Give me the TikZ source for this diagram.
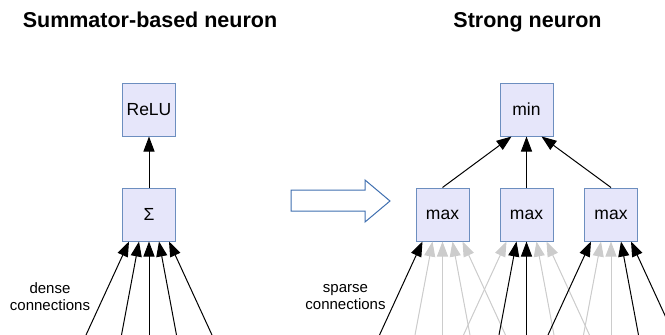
\documentclass[tikz,border=0pt]{standalone}
\usepackage{fontspec}
\setmainfont{Liberation Sans}
\usetikzlibrary{arrows.meta}
\definecolor{boxfill}{HTML}{E6E6FA}
\definecolor{boxdraw}{HTML}{6C8EBF}
\definecolor{arrowblue}{HTML}{3F6FB0}
\definecolor{faint}{HTML}{CCCCCC}
\begin{document}
\begin{tikzpicture}[x=1pt,y=-1pt,
  opbox/.style={draw=boxdraw, fill=boxfill, line width=1pt, minimum width=53pt,
    minimum height=53pt, inner sep=0pt, font=\fontsize{17.5}{20}\selectfont},
  conn/.style={line width=1pt, -{Triangle[length=15pt,width=11pt]}},
  weakconn/.style={conn, draw=faint, fill=faint},
  title/.style={font=\fontsize{21.5}{25}\selectfont\bfseries, anchor=base},
  note/.style={font=\fontsize{15}{17}\selectfont, align=center}]
\useasboundingbox (0,0) rectangle (665,335);
\clip (0,0) rectangle (665,335);

% titles
\node[title] (t1) at (150,27.3) {Summator-based neuron};
\node[title] (t2) at (527.5,27.3) {Strong neuron};

% left neuron
\node[opbox] (relu) at (149,109.5) {ReLU};
\node[opbox] (sigma) at (149,214.5) {Σ};
\draw[conn] (sigma) -- (relu);

\foreach \i/\b/\t in {1/-63/-20, 2/-27.5/-10, 3/0/0, 4/27.5/10, 5/63/20} {
  \coordinate (s\i) at (149+\b,335);
  \draw[conn] (s\i) -- ([xshift=\t pt]sigma.south);
}
\node[note] (dense) at (50,297) {dense\\connections};

% hollow arrow
\draw[arrowblue, line width=1pt, fill=white, line join=miter]
  (291,190) -- (365,190) -- (365,180) -- (390,201) -- (365,222) -- (365,211) -- (291,211) -- cycle;

% right neuron
\node[opbox] (min) at (526.5,109.5) {min};
\node[opbox] (max1) at (442.5,214.5) {max};
\node[opbox] (max2) at (526.5,214.5) {max};
\node[opbox] (max3) at (611,214.5) {max};
\draw[conn] (max1.north) -- ([xshift=-15pt]min.south);
\draw[conn] (max2.north) -- (min.south);
\draw[conn] (max3.north) -- ([xshift=15pt]min.south);

% input coordinates
\foreach \m/\c in {1/442.5, 2/526.5, 3/611} {
  \foreach \i/\b in {1/-63, 2/-27.5, 3/0, 4/27.5, 5/63} {
    \coordinate (m\m i\i) at (\c+\b,335);
  }
}
% faint (unused) connections
\foreach \m/\i/\t in {1/2/-10, 1/3/0, 1/4/10, 1/5/20,
                      2/1/-20, 2/4/10, 2/5/20,
                      3/2/-10, 3/3/0} {
  \draw[weakconn] (m\m i\i) -- ([xshift=\t pt]max\m.south);
}
% active sparse connections
\foreach \m/\i/\t in {1/1/-20, 2/2/-10, 2/3/0, 3/1/-20, 3/4/10, 3/5/20} {
  \draw[conn] (m\m i\i) -- ([xshift=\t pt]max\m.south);
}
\node[note] (sparse) at (345.5,297) {sparse\\connections};
\end{tikzpicture}
\end{document}
